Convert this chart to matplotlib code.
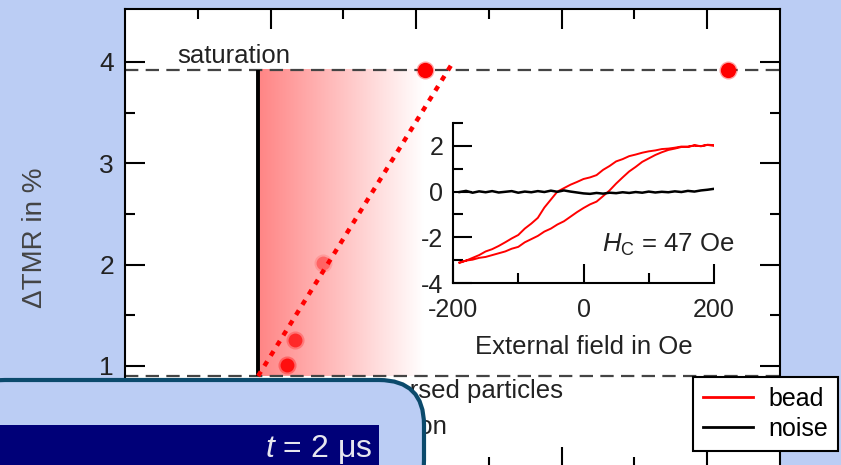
import matplotlib.pyplot as plt
import numpy as np
from matplotlib.colors import LinearSegmentedColormap
from matplotlib.lines import Line2D
from matplotlib.patches import FancyBboxPatch, Rectangle
from matplotlib.transforms import IdentityTransform

plt.rcParams['font.family'] = ['Liberation Sans', 'DejaVu Sans']
plt.rcParams['mathtext.fontset'] = 'custom'
plt.rcParams['mathtext.rm'] = 'Liberation Sans'
plt.rcParams['mathtext.it'] = 'Liberation Sans:italic'
plt.rcParams['axes.unicode_minus'] = False

# main panel
sat_level = 3.92
low_level = 0.90
threshold_x = 0.914
fit_x = [0.914, 2.25]
fit_y = [0.90, 3.99]
sat_dots_x = [2.06, 4.14]
sat_dots_y = [3.92, 3.92]
soft_dots_x = [1.11, 1.17, 1.36]
soft_dots_y = [1.01, 1.26, 2.02]
soft_dots_alpha = [0.85, 0.65, 0.35]

# inset: hysteresis loop (Oe, %)
h_up = [-190, -180, -170, -160, -150, -140, -130, -120, -110, -100,
        -90, -80, -70, -60, -50, -40, -30, -20, -10, 0,
        10, 20, 30, 40, 50, 60, 70, 80, 90, 100,
        110, 120, 130, 140, 150, 160, 170, 180, 190, 200]
bead_up = [-3.10, -3.02, -2.98, -2.90, -2.86, -2.78, -2.70, -2.62, -2.50, -2.42,
           -2.22, -2.08, -1.94, -1.75, -1.62, -1.44, -1.30, -1.10, -0.90, -0.72,
           -0.56, -0.44, -0.20, 0.05, 0.35, 0.62, 0.88, 1.08, 1.30, 1.45,
           1.60, 1.72, 1.82, 1.88, 1.95, 1.97, 2.02, 1.98, 2.05, 2.03]
h_down = h_up[::-1]
bead_down = [2.00, 2.04, 1.99, 2.02, 1.95, 1.97, 1.92, 1.88, 1.86, 1.80,
             1.76, 1.70, 1.62, 1.55, 1.42, 1.32, 1.12, 0.95, 0.72, 0.62,
             0.55, 0.42, 0.30, 0.15, 0.00, -0.35, -0.70, -1.15, -1.40, -1.62,
             -1.90, -2.05, -2.22, -2.38, -2.52, -2.62, -2.78, -2.90, -3.02, -3.12]
noise = [-0.02, 0.03, -0.05, 0.01, -0.03, 0.02, -0.04, -0.01, 0.02, -0.05,
         0.00, -0.03, 0.02, -0.02, 0.04, -0.01, 0.05, 0.00, -0.04, -0.08,
         -0.10, -0.06, -0.09, -0.05, -0.07, -0.03, -0.06, -0.02, -0.05, 0.00,
         -0.04, -0.01, -0.03, 0.01, -0.02, 0.03, 0.00, 0.05, 0.08, 0.12]

bg = '#bbcdf4'
W, H = 841, 465
fig = plt.figure(figsize=(W / 100, H / 100), dpi=100, facecolor=bg)

ax = fig.add_axes([125 / W, (H - 467.3) / H, 655 / W, 458.3 / H])
ax.set_xlim(0, 4.5)
ax.set_ylim(0, 4.523)

# red gradient between threshold and fit
cmap = LinearSegmentedColormap.from_list('fade', [(1, 0.52, 0.52), (1, 1, 1)])
ax.imshow(np.linspace(0, 1, 256)[None, :], cmap=cmap, aspect='auto',
          extent=[threshold_x, 2.05, low_level, sat_level], zorder=1,
          interpolation='bilinear')

dash_kw = dict(color='#444444', lw=1.6, dashes=(6, 3.3), zorder=2)
ax.axhline(sat_level, **dash_kw)
ax.axhline(low_level, **dash_kw)
ax.plot([threshold_x, threshold_x], [low_level, sat_level], color='black',
        lw=2.8, solid_capstyle='butt', zorder=3)

for x, y, a in zip(soft_dots_x, soft_dots_y, soft_dots_alpha):
    ax.plot(x, y, 'o', ms=13, color='red', alpha=a * 0.4, mec='none', zorder=4)
    ax.plot(x, y, 'o', ms=10, color='red', alpha=a, mec='none', zorder=4)
ax.plot(sat_dots_x, sat_dots_y, 'o', ms=13, color='red', alpha=0.35,
        mec='none', zorder=4, clip_on=False)
ax.plot(sat_dots_x, sat_dots_y, 'o', ms=11, color='red', mec='none', zorder=4)

ax.plot(fit_x, fit_y, color='red', lw=3.2, dashes=(1.2, 1.5),
        dash_capstyle='butt', zorder=5)

ax.text(0.357, 3.99, 'saturation', fontsize=18.5, color='#222222')
ax.text(3.01, 0.684, 'dispersed particles', fontsize=18.5, color='#222222', ha='right')
ax.text(2.22, 0.329, 'ation', fontsize=18.5, color='#222222', ha='right')

for s in ax.spines.values():
    s.set_linewidth(1.5)
ax.set_xticks([1, 2, 3, 4])
ax.set_xticks([0.5, 1.5, 2.5, 3.5], minor=True)
ax.set_yticks([1, 2, 3, 4])
ax.set_yticks([0.5, 1.5, 2.5, 3.5], minor=True)
ax.tick_params(which='both', direction='in', top=True, right=True, width=1.5,
               labelbottom=False, labelsize=19, labelcolor='#222222', pad=8)
ax.tick_params(which='major', length=14.4)
ax.tick_params(which='minor', length=7.2)

fig.text(35 / W, 1 - 238 / H, '\u0394TMR in %', rotation=90, fontsize=20,
         color='#444444', ha='center', va='center')

# inset
ins = fig.add_axes([453 / W, 1 - 283 / H, 261 / W, 160 / H])
ins.patch.set_alpha(0)
ins.plot(h_up + h_down, bead_up + bead_down, color='red', lw=1.4)
ins.plot(h_up, noise, color='black', lw=1.8)
ins.set_xlim(-200, 200)
ins.set_ylim(-4, 3)
ins.spines[['top', 'right']].set_visible(False)
for s in ins.spines.values():
    s.set_linewidth(1.5)
ins.set_xticks([-200, 0, 200])
ins.set_xticks([-100, 100], minor=True)
ins.set_yticks([-4, -2, 0, 2])
ins.set_yticks([-3, -1, 1, 3], minor=True)
ins.tick_params(which='both', direction='in', width=1.5, labelsize=18,
                labelcolor='#222222')
ins.tick_params(which='major', length=13.5)
ins.tick_params(which='minor', length=7)
ins.tick_params(axis='x', pad=11)
ins.tick_params(axis='y', pad=7)
ins.set_xlabel('External field in Oe', fontsize=18.5, color='#222222', labelpad=9)
ins.text(1.08, 0.2375, r'$H_\mathrm{C}$ = 47 Oe', transform=ins.transAxes,
         fontsize=18.5, color='#222222', ha='right', va='center')

handles = [Line2D([], [], color='red', lw=2), Line2D([], [], color='black', lw=2)]
leg = fig.legend(handles, ['bead', 'noise'], loc='upper left',
                 bbox_to_anchor=(693 / W, 1 - 377 / H), fontsize=18,
                 fancybox=False, framealpha=1, edgecolor='black',
                 handlelength=2.0, handletextpad=0.6, borderpad=0.4,
                 labelspacing=0.22, borderaxespad=0)
leg.get_frame().set_linewidth(1.5)

# overlay panel in the lower left corner (pixel coordinates)
px = IdentityTransform()
box = FancyBboxPatch((-40, -40), 464, H - 380 + 40,
                     boxstyle='round,pad=0,rounding_size=45',
                     transform=px, facecolor=bg, edgecolor='#0b4a6c',
                     lw=3, zorder=10)
fig.add_artist(box)
fig.add_artist(Rectangle((-5, -10), 384, H - 425 + 10, transform=px,
                         facecolor='#000078', edgecolor='none', zorder=11))
fig.text(372, 8, '$t$ = 2 \u03bcs', transform=px,
         fontsize=23, color='#e6e6ee', ha='right', va='baseline', zorder=12)

fig.savefig('out.png', dpi=100, facecolor=bg)
